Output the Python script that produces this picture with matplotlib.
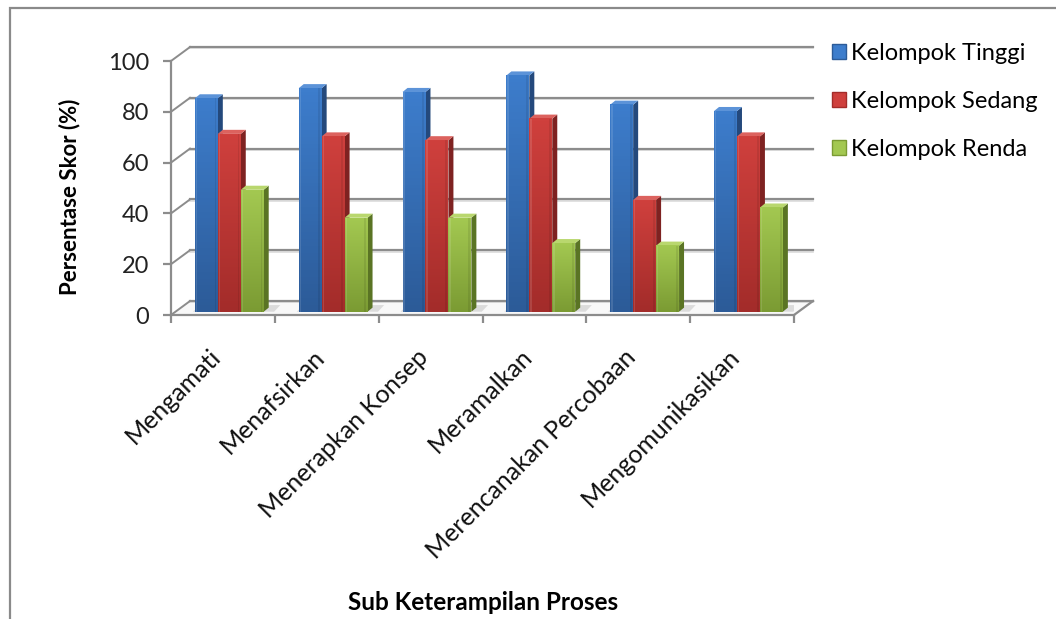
import numpy as np
import matplotlib.pyplot as plt
from matplotlib.patches import Polygon, Rectangle, Patch
from matplotlib.colors import LinearSegmentedColormap

categories = ['Mengamati', 'Menafsirkan', 'Menerapkan Konsep', 'Meramalkan',
              'Merencanakan Percobaan', 'Mengomunikasikan']
series_names = ['Kelompok Tinggi', 'Kelompok Sedang', 'Kelompok Renda']
tinggi = [84, 88, 86.5, 93, 81.5, 79]
sedang = [70, 69, 67.5, 76, 44, 69]
renda = [48, 37, 37, 27, 26, 41]
yticks = [0, 20, 40, 60, 80, 100]

# colours per series: (top of front face, bottom of front face, side, cap)
styles = [
    ('#3d7dcc', '#2c5b98', '#24497c', '#5c93d8'),
    ('#cf403d', '#a32c2a', '#7e2221', '#dc625e'),
    ('#a3c851', '#7b9b33', '#5a7424', '#b9d76e'),
]

plt.rcParams['font.family'] = ['Lato', 'DejaVu Sans']

W, H = 1056, 619
fig = plt.figure(figsize=(W / 100, H / 100), dpi=100)
fig.patch.set_facecolor('white')

# outer chart border (runs off the right and bottom of the image)
fig.patches.append(Rectangle((10 / W, -0.2), 1.2, 1 - 8 / H + 0.2,
                             transform=fig.transFigure, fill=False,
                             edgecolor='#8a8a8a', lw=1.6))

ax = fig.add_axes([171 / W, 304 / H, 623 / W, 254 / H])
ax.set_xlim(-0.5, 5.5)
ax.set_ylim(0, 100)
ax.set_facecolor('none')

GRID = '#8c8c8c'
DX, DY = 0.183, 5.5           # depth of the plot box (category units, value units)
BY = 1.3                      # where the bar fronts sit inside the box
SX, SY = 0.048, 1.6           # depth of each bar
BW = 0.221                    # bar width

x0, x1 = -0.5, 5.5
# floor
ax.add_patch(Polygon([(x0, 0), (x1, 0), (x1 + DX, DY), (x0 + DX, DY)],
                     closed=True, facecolor='#f8f8f8', edgecolor='none',
                     zorder=0, clip_on=False))
ax.plot([x1, x1 + DX], [0, DY], color=GRID, lw=1.6, clip_on=False, zorder=1)

# back wall gridlines and the diagonals from the value axis
for v in yticks:
    ax.plot([x0 + DX, x1 + DX], [v + DY - 0.5, v + DY - 0.5], color='#dcdcdc',
            lw=1.2, clip_on=False, zorder=0.5)
    ax.plot([x0 + DX, x1 + DX], [v + DY, v + DY], color=GRID,
            lw=1.6, clip_on=False, zorder=1)
    ax.plot([x0, x0 + DX], [v, v + DY], color=GRID, lw=1.4,
            clip_on=False, zorder=1)


def gradient_bar(x, y0, h, c_top, c_bot):
    cmap = LinearSegmentedColormap.from_list('g', [c_bot, c_top])
    grad = np.linspace(0, 1, 64).reshape(-1, 1)
    rect = Rectangle((x, y0), BW, h, facecolor='none', edgecolor='none')
    ax.add_patch(rect)
    im = ax.imshow(grad, extent=[x, x + BW, y0, y0 + h], origin='lower',
                   aspect='auto', cmap=cmap, zorder=3, clip_on=False)
    im.set_clip_path(rect)
    # soft bevel highlights along the edges
    ax.add_patch(Rectangle((x + BW * 0.04, y0), BW * 0.06, h,
                           facecolor='white', alpha=0.12, edgecolor='none',
                           zorder=3.1))
    ax.add_patch(Rectangle((x + BW * 0.86, y0), BW * 0.08, h,
                           facecolor='black', alpha=0.08, edgecolor='none',
                           zorder=3.1))


data = [tinggi, sedang, renda]
for ci in range(len(categories)):
    # shadow on the floor behind the group
    gl = ci - 0.5 + 0.23
    ax.add_patch(Polygon([(gl - 0.02, BY), (gl + 3 * BW + 0.1, BY),
                          (gl + 3 * BW + 0.16, BY + 2.6), (gl + 0.05, BY + 2.6)],
                         closed=True, facecolor='#c8c8c8', alpha=0.6,
                         edgecolor='none', zorder=0.8))
    for si, vals in enumerate(data):
        c_top, c_bot, c_side, c_cap = styles[si]
        v = vals[ci]
        xl = gl + si * BW
        xr = xl + BW
        b0 = BY
        # side face
        ax.add_patch(Polygon([(xr, b0), (xr, b0 + v), (xr + SX, b0 + v + SY),
                              (xr + SX, b0 + SY)], closed=True,
                             facecolor=c_side, edgecolor='none', zorder=3))
        # cap
        ax.add_patch(Polygon([(xl, b0 + v), (xr, b0 + v), (xr + SX, b0 + v + SY),
                              (xl + SX, b0 + v + SY)], closed=True,
                             facecolor=c_cap, edgecolor='none', zorder=3))
        gradient_bar(xl, b0, v, c_top, c_bot)

ax.set_xlim(-0.5, 5.5)
ax.set_ylim(0, 100)

# axes lines and ticks
for s in ['top', 'right']:
    ax.spines[s].set_visible(False)
for s in ['left', 'bottom']:
    ax.spines[s].set_color(GRID)
    ax.spines[s].set_linewidth(1.6)
    ax.spines[s].set_zorder(1)
ax.set_yticks(yticks)
ax.set_yticklabels([str(v) for v in yticks], fontsize=17, color='#222222')
ax.set_xticks(np.arange(-0.5, 6, 1))
ax.set_xticklabels([])
ax.tick_params(axis='both', color=GRID, width=1.6, length=6, direction='out')
ax.tick_params(axis='y', pad=10)

for ci, name in enumerate(categories):
    ax.text(ci - 0.06, -15, name, rotation=45, rotation_mode='anchor',
            ha='right', va='center', fontsize=18, color='#111111')

fig.text(70 / W, 1 - 197 / H, 'Persentase Skor (%)', rotation=90,
         ha='center', va='center', fontsize=16, fontweight='bold')
fig.text(483 / W, 1 - 603 / H, 'Sub Keterampilan Proses',
         ha='center', va='center', fontsize=17.5, fontweight='bold')

handles = [Patch(facecolor=styles[i][0], edgecolor=styles[i][1])
           for i in range(3)]
fig.legend(handles, series_names, loc='upper left',
           bbox_to_anchor=(820 / W, 1 - 31 / H), frameon=False,
           fontsize=17, handlelength=0.6, handleheight=0.6,
           handletextpad=0.22, labelspacing=1.15, borderpad=0)

fig.savefig('out.png', dpi=100, facecolor='white')
